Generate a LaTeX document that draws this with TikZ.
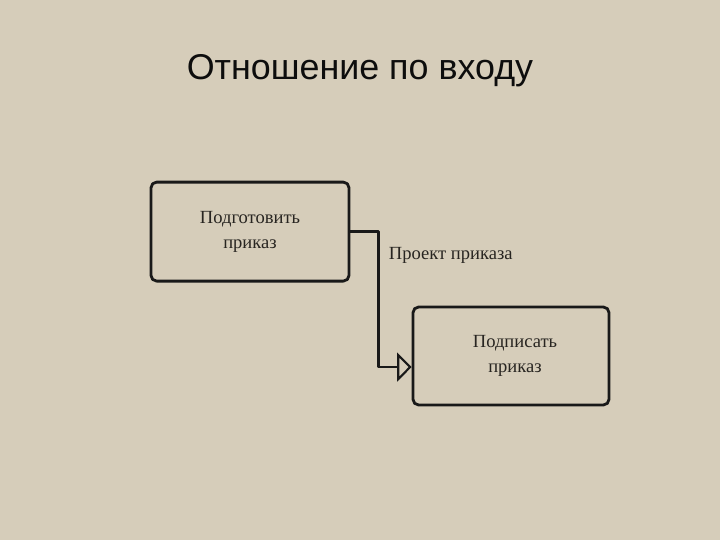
\documentclass[tikz,border=0pt]{standalone}
\usepackage{fontspec}
\setmainfont{Liberation Serif}
\newfontfamily\titlefont{Liberation Sans}
\usetikzlibrary{arrows.meta,calc,positioning}
\definecolor{paperbeige}{RGB}{214,205,186}
\definecolor{inkgray}{RGB}{40,37,33}
\tikzset{
  actbox/.style={draw=black!90,line width=2pt,rounded corners=4pt,
    minimum width=4.95cm,minimum height=2.475cm,align=center,
    font=\fontsize{13.2}{17.7}\selectfont,text=inkgray},
  flow/.style={draw=black!90,line width=1.7pt,
    -{Triangle[open,length=0.36cm,width=0.72cm,line width=1.5pt]}}
}

\begin{document}
\begin{tikzpicture}[line join=round]
 \fill[paperbeige] (0,0) rectangle (18,13.5);
 \useasboundingbox (0,0) rectangle (18,13.5);
 \node[anchor=base,font=\titlefont\fontsize{25.5}{28}\selectfont,text=black!95]
  (title) at (9,11.5) {Отношение по входу};
 \node[actbox] (prep) at (6.25,7.71) {Подготовить\\приказ};
 \node[actbox,minimum width=4.9cm,minimum height=2.45cm] (sign) at (12.775,4.6)
  {\hspace{0.2cm}Подписать\\\hspace{0.2cm}приказ};
 \draw[flow] (prep.east) -- ++(0.7,0)
  |- ($(sign.south west)!0.39!(sign.north west)$);
 \node[anchor=west,font=\fontsize{13.2}{15}\selectfont,text=inkgray]
  (draft) at (9.6,7.12) {Проект приказа};
\end{tikzpicture}
\end{document}
